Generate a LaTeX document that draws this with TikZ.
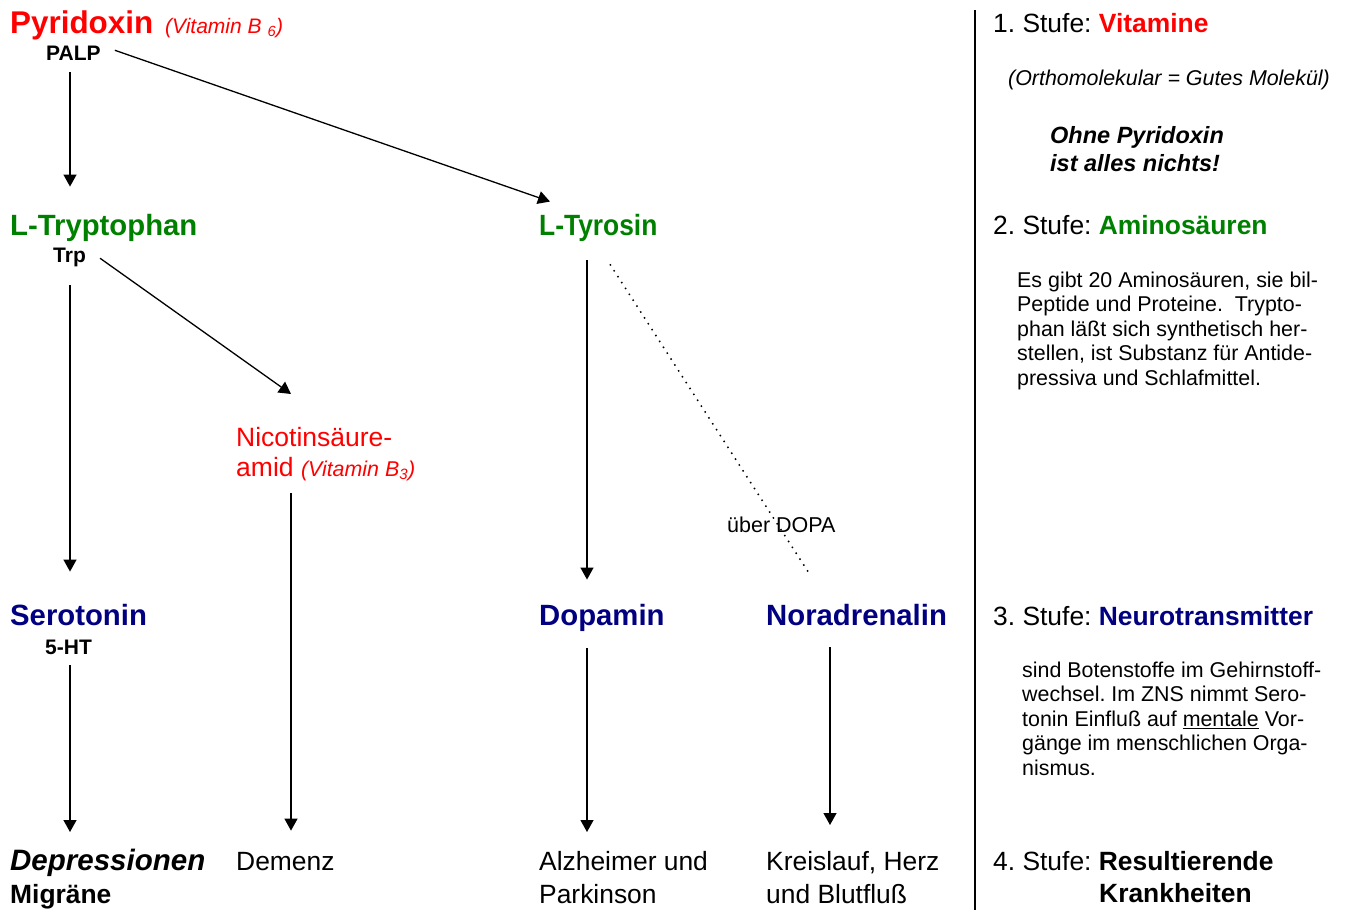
\documentclass[tikz,border=0pt]{standalone}
\usepackage{fontspec}
\usepackage{graphicx}
\setmainfont{Liberation Sans}
\usetikzlibrary{arrows.meta}
\definecolor{vred}{HTML}{FF0000}
\definecolor{vgreen}{HTML}{008000}
\definecolor{vnavy}{HTML}{000080}
\frenchspacing
\tikzset{
  txt/.style={inner sep=0pt, anchor=base west},
  head/.style={txt, font=\fontsize{29.3}{34}\selectfont\bfseries},
  subl/.style={txt, font=\fontsize{21}{25}\selectfont\bfseries},
  dis/.style={inner sep=0pt, anchor=north west, align=left, font=\fontsize{26.4}{33}\selectfont},
  stufe/.style={txt, font=\fontsize{26.4}{32}\selectfont},
  para/.style={inner sep=0pt, anchor=north west, align=left, font=\fontsize{21.4}{24.6}\selectfont},
  vit/.style={font=\fontsize{21}{24}\selectfont\mdseries\itshape},
  arr/.style={-{Triangle[length=12pt,width=13pt]}, line width=1.3pt},
  dotline/.style={line width=1.5pt, dash pattern=on 1.5pt off 5.5pt},
}
\begin{document}
\begin{tikzpicture}[x=1pt,y=-1pt]
\useasboundingbox (0,0) rectangle (1345,910);

% left column
\node[txt, font=\fontsize{31.4}{36}\selectfont\bfseries, text=vred] (pyr) at (10,33) {Pyridoxin};
\node[txt, vit, text=vred] (pyrvit) at (165,33) {(Vitamin B \textsubscript{6})};
\node[subl] (palp) at (46,60) {PALP};

\node[head, text=vgreen] (ltrp) at (10,235) {L-Tryptophan};
\node[subl] (trp) at (53,262) {Trp};
\node[head, text=vgreen] (ltyr) at (539,235) {\scalebox{0.9}[1]{L-Tyrosin}};

\node[dis, text=vred, font=\fontsize{26.5}{30}\selectfont] (nic) at (236,427)
  {Nicotinsäure-\\amid {\fontsize{21.4}{24}\selectfont\itshape (Vitamin B\textsubscript{3})}};

\node[txt, font=\fontsize{21.5}{25}\selectfont] (dopa1) at (727,532) {über DOPA};

\node[head, text=vnavy] (sero) at (10,625) {Serotonin};
\node[subl] (ht) at (45,654) {5-HT};
\node[head, text=vnavy] (dopa) at (539,625) {Dopamin};
\node[head, text=vnavy] (nora) at (766,625) {Noradrenalin};

\node[dis, font=\fontsize{26.4}{33}\selectfont\bfseries] (depr) at (10,849)
  {{\fontsize{29.5}{33}\selectfont\itshape Depressionen}\\Migräne};
\node[txt, font=\fontsize{26.4}{32}\selectfont] (dem) at (236,870) {Demenz};
\node[dis] (alz) at (539,851) {Alzheimer und\\Parkinson};
\node[dis] (kreis) at (766,851) {Kreislauf, Herz\\und Blutfluß};

% connectors
\draw[arr] ([xshift=24pt,yshift=-12pt]palp.south west) -- ([xshift=60pt,yshift=27pt]ltrp.north west);
\draw[arr] ([xshift=14pt,yshift=2.5pt]palp.east) -- ([xshift=11pt,yshift=12pt]ltyr.north west);
\draw[arr] ([xshift=17pt,yshift=-18.6pt]trp.south west) -- ([xshift=60pt,yshift=32pt]sero.north west);
\draw[arr] ([xshift=14pt,yshift=-1.3pt]trp.east) -- ([xshift=55pt,yshift=33pt]nic.north west);
\draw[arr] ([xshift=55pt,yshift=-12pt]nic.south west) -- ([xshift=55pt,yshift=21pt]dem.north west);
\draw[arr] ([xshift=48pt,yshift=-19pt]ltyr.south west) -- ([xshift=48pt,yshift=24pt]dopa.north west);
\draw[dotline] ([xshift=71pt,yshift=-23pt]ltyr.south west) -- ([xshift=42pt,yshift=32pt]nora.north west);
\draw[arr] ([xshift=25pt,yshift=-11pt]ht.south west) -- ([xshift=60pt,yshift=17pt]depr.north west);
\draw[arr] ([xshift=48pt,yshift=-17pt]dopa.south west) -- ([xshift=48pt,yshift=19pt]alz.north west);
\draw[arr] ([xshift=64pt,yshift=-22pt]nora.south west) -- ([xshift=64pt,yshift=26pt]kreis.north west);

% divider
\draw[line width=2.5pt] (975,10) -- (975,910);

% right column
\node[stufe] (s1) at (993,32) {1. Stufe: \textbf{\color{vred}Vitamine}};
\node[txt, font=\fontsize{21.4}{25}\selectfont\itshape] (orth) at (1008,85) {(Orthomolekular = Gutes Molekül)};
\node[inner sep=0pt, anchor=north west, align=left, font=\fontsize{23.5}{28}\selectfont\bfseries\itshape] (ohne) at (1050,126)
  {Ohne Pyridoxin\\ist alles nichts!};
\node[stufe] (s2) at (993,234) {2. Stufe: \textbf{\color{vgreen}Aminosäuren}};
\node[para] (p2) at (1017,271.4)
  {Es gibt 20 Aminosäuren, sie bil-\\Peptide und Proteine.\ \ Trypto-\\phan läßt sich synthetisch her-\\stellen, ist Substanz für Antide-\\pressiva und Schlafmittel.};
\node[stufe] (s3) at (993,625) {3. Stufe: \textbf{\color{vnavy}Neurotransmitter}};
\node[para] (p3) at (1022,661.4)
  {sind Botenstoffe im Gehirnstoff-\\wechsel. Im ZNS nimmt Sero-\\tonin Einfluß auf \underline{mentale} Vor-\\gänge im menschlichen Orga-\\nismus.};
\node[stufe] (s4) at (993,870) {4. Stufe: \textbf{Resultierende}};
\node[stufe, font=\fontsize{26.4}{32}\selectfont\bfseries] (krank) at (1099,902) {Krankheiten};
\end{tikzpicture}
\end{document}
